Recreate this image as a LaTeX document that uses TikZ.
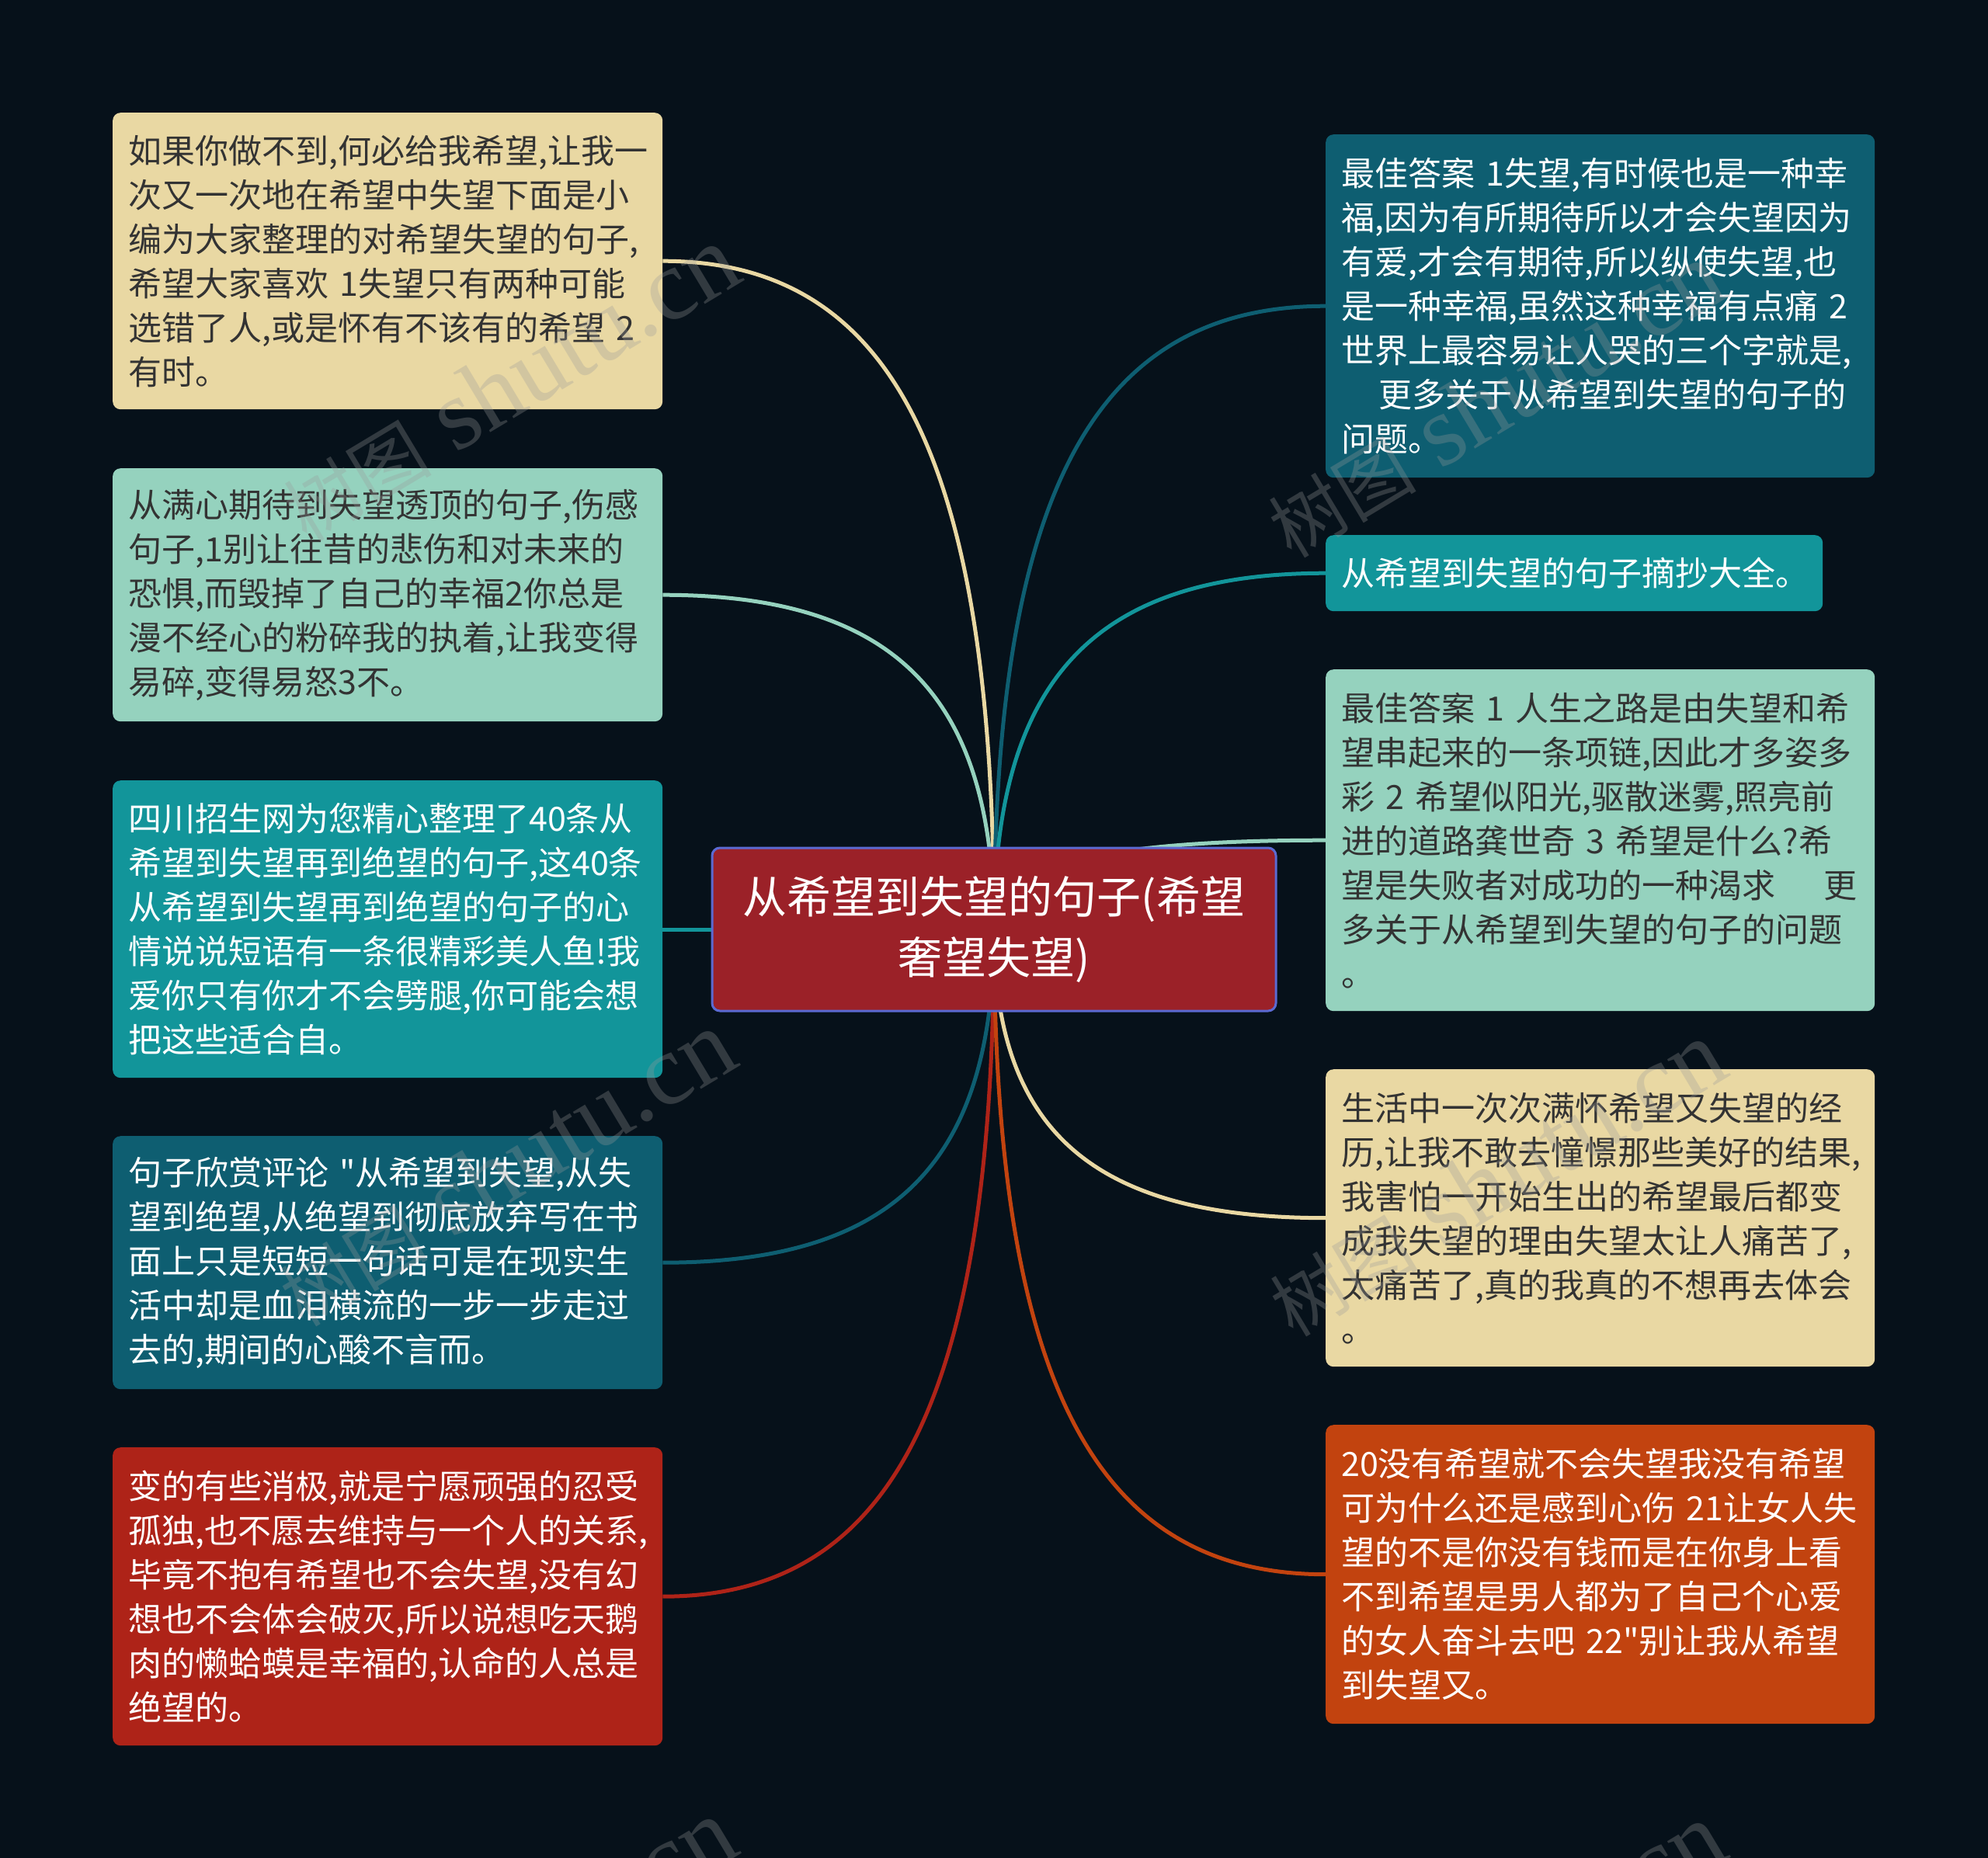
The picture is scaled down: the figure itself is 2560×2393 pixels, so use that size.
\documentclass[tikz,border=0pt]{standalone}
\usepackage{fontspec}
\newfontfamily\cjk{Noto Sans CJK SC}
\newfontfamily\wmserif{Liberation Serif}
\usetikzlibrary{calc}
\definecolor{bgc}{HTML}{06111A}
\definecolor{beige}{HTML}{E9D8A3}
\definecolor{mint}{HTML}{95D2BE}
\definecolor{teal}{HTML}{12959A}
\definecolor{dteal}{HTML}{0E5E71}
\definecolor{redc}{HTML}{AE2318}
\definecolor{orangec}{HTML}{C2430F}
\definecolor{rootfill}{HTML}{9B2128}
\definecolor{rootline}{HTML}{5B6AD2}
\definecolor{darktext}{HTML}{333333}
\definecolor{wmgray}{HTML}{9A9A9A}
\pgfdeclarelayer{bg}
\pgfdeclarelayer{edges}
\pgfsetlayers{bg,edges,main}
\begin{document}
\begin{tikzpicture}[x=1pt,y=-1pt,
  leaf/.style={rectangle, rounded corners=10pt, anchor=north west, inner xsep=20pt, inner ysep=0pt, align=left, font=\cjk\fontsize{43pt}{57pt}\selectfont},
  lbox/.style={leaf, minimum width=708pt, text width=668pt},
  rbox/.style={leaf, minimum width=707pt, text width=667pt},
  rootbox/.style={rectangle, rounded corners=10pt, fill=rootfill, draw=rootline, line width=3pt, minimum width=726pt, minimum height=210pt, text width=686pt, inner xsep=20pt, align=center, text=white, font=\cjk\fontsize{57pt}{78pt}\selectfont},
  link/.style={line width=5pt},
  curvy/.style={to path={.. controls ($(\tikztostart)!0.7!(\tikztostart |- \tikztotarget)$) and ($(\tikztotarget)!0.7!(\tikztostart |- \tikztotarget)$) .. (\tikztotarget)}},
  wm/.style={text=wmgray, text opacity=0.3, rotate=31, font=\wmserif\fontsize{130pt}{130pt}\selectfont},
]
\path[use as bounding box] (0,0) rectangle (2560,2393);
\begin{pgfonlayer}{bg}
\fill[bgc] (0,0) rectangle (2560,2393);
\end{pgfonlayer}

\node[rootbox] (root) at (1280,1197) {从希望到失望的句子(希望\\奢望失望)};

\node[lbox, fill=beige, text=darktext, minimum height=382pt] (L1) at (145,145) {如果你做不到,何必给我希望,让我一\\次又一次地在希望中失望下面是小\\编为大家整理的对希望失望的句子,\\希望大家喜欢~1失望只有两种可能\\选错了人,或是怀有不该有的希望~2\\有时。};
\node[lbox, fill=mint, text=darktext, minimum height=326pt] (L2) at (145,603) {从满心期待到失望透顶的句子,伤感\\句子,1别让往昔的悲伤和对未来的\\恐惧,而毁掉了自己的幸福2你总是\\漫不经心的粉碎我的执着,让我变得\\易碎,变得易怒3不。};
\node[lbox, fill=teal, text=white, minimum height=383pt] (L3) at (145,1005) {四川招生网为您精心整理了40条从\\希望到失望再到绝望的句子,这40条\\从希望到失望再到绝望的句子的心\\情说说短语有一条很精彩美人鱼!我\\爱你只有你才不会劈腿,你可能会想\\把这些适合自。};
\node[lbox, fill=dteal, text=white, minimum height=326pt] (L4) at (145,1463) {句子欣赏评论~"从希望到失望,从失\\望到绝望,从绝望到彻底放弃写在书\\面上只是短短一句话可是在现实生\\活中却是血泪横流的一步一步走过\\去的,期间的心酸不言而。};
\node[lbox, fill=redc, text=white, minimum height=384pt] (L5) at (145,1864) {变的有些消极,就是宁愿顽强的忍受\\孤独,也不愿去维持与一个人的关系,\\毕竟不抱有希望也不会失望,没有幻\\想也不会体会破灭,所以说想吃天鹅\\肉的懒蛤蟆是幸福的,认命的人总是\\绝望的。};

\node[rbox, fill=dteal, text=white, minimum height=442pt] (R1) at (1707,173) {最佳答案~1失望,有时候也是一种幸\\福,因为有所期待所以才会失望因为\\有爱,才会有期待,所以纵使失望,也\\是一种幸福,虽然这种幸福有点痛~2\\世界上最容易让人哭的三个字就是,\\\hspace*{48pt}更多关于从希望到失望的句子的\\问题。};
\node[leaf, fill=teal, text=white, minimum width=640pt, text width=600pt, minimum height=98pt] (R2) at (1707,689) {从希望到失望的句子摘抄大全。};
\node[rbox, fill=mint, text=darktext, minimum height=440pt] (R3) at (1707,862) {最佳答案~1~人生之路是由失望和希\\望串起来的一条项链,因此才多姿多\\彩~2~希望似阳光,驱散迷雾,照亮前\\进的道路龚世奇~3~希望是什么?希\\望是失败者对成功的一种渴求\kern62pt 更\\多关于从希望到失望的句子的问题\\。};
\node[rbox, fill=beige, text=darktext, minimum height=383pt] (R4) at (1707,1377) {生活中一次次满怀希望又失望的经\\历,让我不敢去憧憬那些美好的结果,\\我害怕一开始生出的希望最后都变\\成我失望的理由失望太让人痛苦了,\\太痛苦了,真的我真的不想再去体会\\。};
\node[rbox, fill=orangec, text=white, minimum height=385pt] (R5) at (1707,1835) {20没有希望就不会失望我没有希望\\可为什么还是感到心伤~21让女人失\\望的不是你没有钱而是在你身上看\\不到希望是男人都为了自己个心爱\\的女人奋斗去吧~22"别让我从希望\\到失望又。};

\begin{pgfonlayer}{edges}
\draw[link, beige, curvy] (root.center) to (L1.east);
\draw[link, mint, curvy] (root.center) to (L2.east);
\draw[link, teal] (root.center) -- (root.center -| L3.east);
\draw[link, dteal, curvy] (root.center) to (L4.east);
\draw[link, redc, curvy] (root.center) to (L5.east);
\draw[link, dteal, curvy] (root.center) to (R1.west);
\draw[link, teal, curvy] (root.center) to (R2.west);
\draw[link, mint, curvy] (root.center) to (R3.west);
\draw[link, beige, curvy] (root.center) to (R4.west);
\draw[link, orangec, curvy] (root.center) to (R5.west);
\end{pgfonlayer}

\node[wm] (wm1) at (657,494) {{\cjk\fontsize{95pt}{95pt}\selectfont 树图}\ shutu.cn};
\node[wm] (wm2) at (1925,515) {{\cjk\fontsize{95pt}{95pt}\selectfont 树图}\ shutu.cn};
\node[wm] (wm3) at (652,1505) {{\cjk\fontsize{95pt}{95pt}\selectfont 树图}\ shutu.cn};
\node[wm] (wm4) at (1927,1518) {{\cjk\fontsize{95pt}{95pt}\selectfont 树图}\ shutu.cn};
\node[wm] (wm5) at (653,2520) {{\cjk\fontsize{95pt}{95pt}\selectfont 树图}\ shutu.cn};
\node[wm] (wm6) at (1927,2525) {{\cjk\fontsize{95pt}{95pt}\selectfont 树图}\ shutu.cn};
\end{tikzpicture}
\end{document}
